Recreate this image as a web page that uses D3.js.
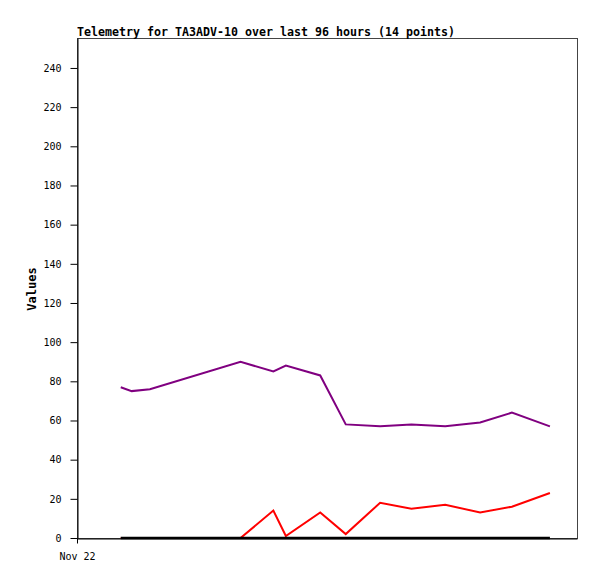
<!DOCTYPE html>
<html>
<head>
<meta charset="utf-8">
<script src="https://cdn.jsdelivr.net/npm/d3@7"></script>
<style>
  body { margin: 0; background: #fff; }
  svg { display: block; }
  text { font-family: "DejaVu Sans Mono", "Liberation Mono", monospace; fill: #000; }
</style>
</head>
<body>
<svg id="chart" width="597" height="579"></svg>
<script>
// ---- data ----
const title = "Telemetry for TA3ADV-10 over last 96 hours (14 points)";
const yLabel = "Values";
const hoursFromStart = [8.4, 10.5, 14.0, 31.4, 37.7, 40.1, 46.7, 51.6, 58.2, 64.2, 70.7, 77.4, 83.5, 90.8];
const purpleValues = [77, 75, 76, 90, 85, 88, 83, 58, 57, 58, 57, 59, 64, 57];
const redValues    = [0, 0, 0, 0, 14, 1, 13, 2, 18, 15, 17, 13, 16, 23];
const blackValues  = [0, 0, 0, 0, 0, 0, 0, 0, 0, 0, 0, 0, 0, 0];
const yTicks = [0, 20, 40, 60, 80, 100, 120, 140, 160, 180, 200, 220, 240];
const xTickLabels = ["Nov 22"];
const spanHours = 96;
const yMax = 255.3;

// ---- layout ----
const svg = d3.select("#chart");
const L = 77, T = 38, R = 577, B = 538;
const start = new Date(2000, 10, 22, 0, 0, 0);
const times = hoursFromStart.map(h => new Date(start.getTime() + h * 3600e3));
const x = d3.scaleTime().domain([start, new Date(start.getTime() + spanHours * 3600e3)]).range([L, R]);
const y = d3.scaleLinear().domain([0, yMax]).range([B, T]);

// frame (top/right)
svg.append("rect").attr("x", L + 0.5).attr("y", T + 0.5).attr("width", R - L).attr("height", B - T)
  .attr("fill", "none").attr("stroke", "#444").attr("stroke-width", 1);

// series
const line = vals => d3.line().x((d, i) => x(times[i])).y(d => y(d))(vals);
svg.append("path").attr("d", line(purpleValues)).attr("fill", "none").attr("stroke", "#800080").attr("stroke-width", 2);
svg.append("path").attr("d", line(redValues)).attr("fill", "none").attr("stroke", "#ff0000").attr("stroke-width", 2);
svg.append("path").attr("d", line(blackValues)).attr("fill", "none").attr("stroke", "#000").attr("stroke-width", 2.5);

// y axis
const yAxis = d3.axisLeft(y).tickValues(yTicks).tickSize(7).tickPadding(9).tickSizeOuter(0);
const gy = svg.append("g").attr("transform", `translate(${L + 0.5},0)`).call(yAxis);
gy.select(".domain").attr("stroke", "#000");
gy.selectAll(".tick line").attr("stroke", "#000");
gy.selectAll(".tick text").attr("font-family", "DejaVu Sans Mono").attr("font-size", 10);

// x axis
const xAxis = d3.axisBottom(x).tickValues([start]).tickFormat((d, i) => xTickLabels[i])
  .tickSize(5).tickPadding(9).tickSizeOuter(0);
const gx = svg.append("g").attr("transform", `translate(0,${B + 0.5})`).call(xAxis);
gx.select(".domain").attr("stroke", "#000");
gx.selectAll(".tick line").attr("stroke", "#000");
gx.selectAll(".tick text").attr("font-family", "DejaVu Sans Mono").attr("font-size", 10);

// title
svg.append("text").attr("x", L).attr("y", 36).attr("font-size", 12).attr("font-weight", "bold")
  .attr("textLength", 378).attr("lengthAdjust", "spacingAndGlyphs").text(title);

// y label
svg.append("text").attr("transform", `translate(36,289) rotate(-90)`).attr("text-anchor", "middle")
  .attr("font-size", 12).attr("font-weight", "bold").text(yLabel);
</script>
</body>
</html>
